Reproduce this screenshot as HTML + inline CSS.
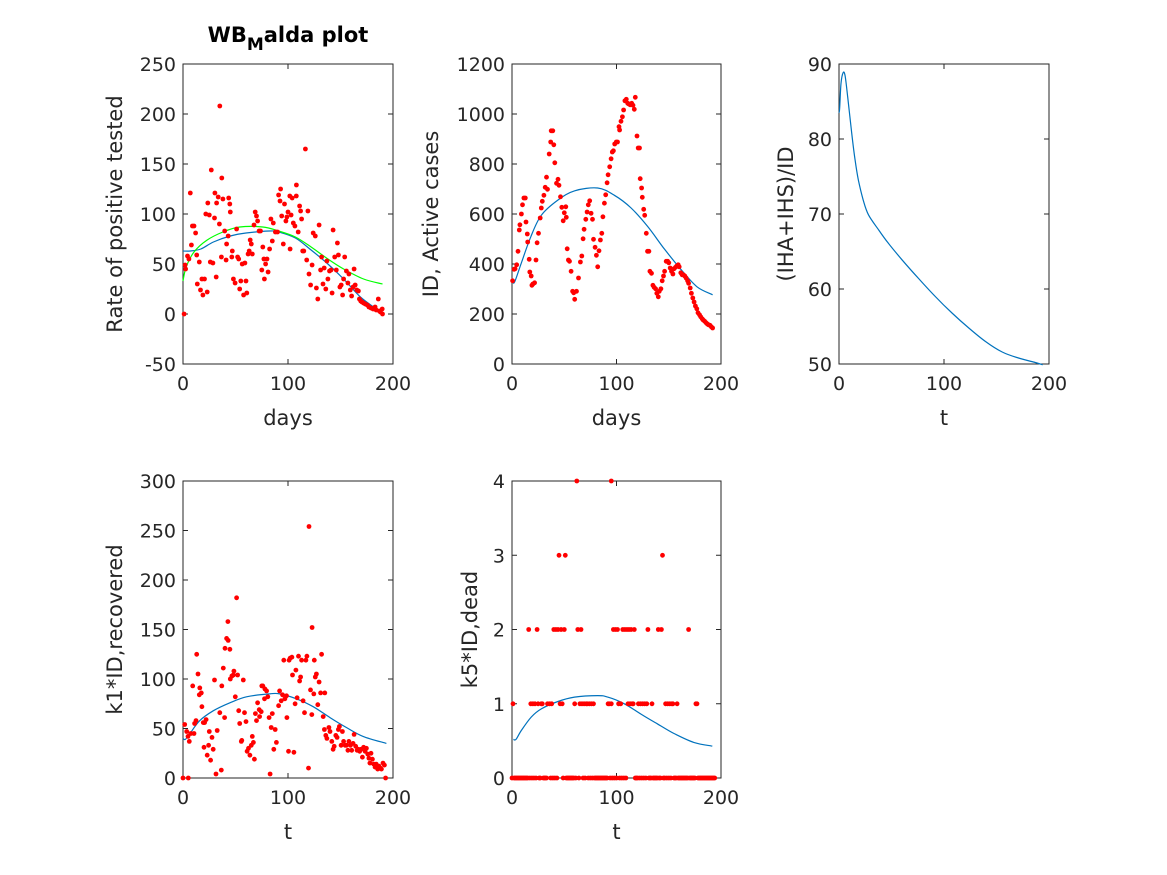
<!DOCTYPE html>
<html><head><meta charset="utf-8"><style>
body{margin:0;background:#fff;}
svg{display:block;font-family:"DejaVu Sans","Liberation Sans",sans-serif;}
</style></head><body>
<svg id="fig" width="1167" height="875" viewBox="0 0 1167 875" xmlns="http://www.w3.org/2000/svg">
<rect width="1167" height="875" fill="#fff"/>
<text x="288" y="42" text-anchor="middle" font-size="21" font-weight="bold" fill="#000">WB<tspan dy="8" font-size="17">M</tspan><tspan dy="-8">alda plot</tspan></text>
</svg>
<script>
// ---- Panel 1: rate of positive tested ----
const p1Days=[1,2,2.5,4.3,5.6,7,8,9,10.5,12,13,13.6,15.5,16.7,18,19,20.5,21.7,23,23.6,25,26,27,28.5,30,30.4,31.6,32,33.5,34.7,35,36.6,37,38,39.7,41,41.5,43,43.5,44.6,45,46.5,47,48,49.6,51,52,53,54,55,56.4,57.7,59,60,60.8,62,63,64,65,66,67.6,68.8,70,71,72.5,73.8,75,76,77,77.5,78.7,80,81,82.5,83.7,85,86,88,90,91,92.4,93,94,95.5,96.7,98,99,100,101.7,102,103,104,105,106.6,107.9,108,109.7,111,112,113,114,115,116.6,117.8,119,120,121.5,123,124,126,127,128.4,129.6,131,132,133.3,134.5,136,137,138,139.5,141,142,143,144.5,146,147,148,149.4,150.7,152,153,154,155.6,157,158,159.3,160.6,162,163,164,165.5,167,168,169.2,170.5,172,173.6,175.5,177,179,181,183,184,186,187,188,190,189.7];
const p1Vals=[0,49,45,58,55,121,69,88,88,81,59,30,52,24,35,19,35,100,22,111,99,52,144,51,96,121,37,111,117,90,208,57,136,115,83,54,70,78,116,110,102,57,63,35,31,85,57,55,25,33,50,19,51,33,21,60,63,74,70,60,89,102,98,93,83,83,44,67,55,35,50,55,42,65,95,73,91,82,82,119,113,125,98,70,110,93,97,102,118,65,99,116,91,88,118,129,82,108,103,95,63,63,165,54,103,40,29,49,81,78,26,15,89,44,57,30,46,25,53,35,43,44,21,84,57,44,71,59,27,29,19,35,57,43,31,40,24,18,27,45,29,24,23,15,13,12,11,10,9,7,6,5,7,4,15,3,2,0,5];
const p1FitDays=[0,7,17,29,45,60,82,91,107,122,138,153,169,184,190];
const p1FitVals=[63,63,65,72,78,81,83,82,76,64,50,35,17,5,-1];
const p1GreenDays=[0,3,10.5,23,38,54,76,91,107,122,138,153,172,190];
const p1GreenVals=[33,47,62,74,82,87,87,83,77,67,55,45,35,30];
const p1YTicks=[-50,0,50,100,150,200,250];
// ---- Panel 2: active cases ----
const p2Days=[0.6,2,3,4.5,5.7,7,7.6,9,10,11.4,12.7,13.4,14.6,15,16.5,17,18.4,19,20,21.6,23,24,25.4,27,28,29,30.5,31.8,33,34,35.6,37,37.5,39,40,41,42.6,44,45,46.4,47.7,49,50,51.5,52,52.8,54,55,56.6,58,59,60,61.7,63.6,65.5,66.8,68,69,70.6,71.9,73,74.4,75.7,77,78,79.5,80.8,82,83.3,84.6,85.9,87,88.4,89.7,91,92,93.5,94.8,96,97,98.3,99.8,101,102.4,103,104.3,105.6,106.8,108,109.4,110.7,111.9,113,114.5,115.8,117,118,119.6,120.8,122,122.7,124,124.7,126,127,128.5,129.7,131,132,133.5,134.8,136,137.4,138.6,140,141,142.5,143.7,145,146,147.6,149,150,151.4,152.6,154,155,156.5,157.7,159,160,161.5,162.8,164,165.4,166.6,168,169,170.5,171.7,173,174.3,175.5,176.8,178,179.4,180.6,182,183,184.4,185.7,187,188,189.5,190.7,192];
const p2Vals=[333,379,381,397,451,536,557,600,637,664,664,568,520,488,419,368,352,315,320,325,416,485,523,584,624,651,675,707,747,699,840,888,933,933,877,805,723,739,715,669,627,573,605,629,587,461,416,411,371,291,285,259,291,344,408,432,501,539,579,608,637,653,603,579,499,467,435,389,453,496,523,589,643,677,725,757,789,821,848,853,880,888,888,949,936,971,989,1016,1053,1059,1043,1040,1037,1043,1035,1019,1067,912,864,864,741,704,667,619,595,523,451,451,371,363,315,307,301,283,269,291,301,333,352,371,411,411,405,384,371,360,381,387,392,397,389,365,357,357,352,344,333,323,304,283,264,248,232,221,205,197,189,181,176,171,165,160,157,155,149,144];
const p2FitDays=[0.6,2.5,9,18,28,44,60,82,98,114,130,146,161.5,177,192];
const p2FitVals=[333,328,405,509,595,656,693,704,675,624,549,459,379,309,277];
const p2YTicks=[0,200,400,600,800,1000,1200];
// ---- Panel 3: (IHA+IHS)/ID ----
const p3Days=[0,0.6,1.9,3.8,5.7,8.3,12.1,15.3,18.5,23,28,37.6,47,60,75.8,91.7,107.6,123.6,139.5,155.4,171,187,194];
const p3Vals=[83.5,84.0,87.4,88.8,88.5,85.6,80.8,77.2,74.5,71.9,69.9,67.9,66.1,63.9,61.4,59.0,56.8,54.8,53.0,51.6,50.8,50.2,49.9];
const p3YTicks=[50,60,70,80,90];
// ---- Panel 4: recovered ----
const p4Days=[0,5,1.6,3.5,4.8,6,7.3,9.2,10.5,11,12.4,13,14.3,15.5,16,17.4,18,19.3,20.6,22,20,23,24.4,25,26.3,27.6,28.8,30,31.4,32.6,35,36.5,37,38.4,39.6,40,41.5,42.8,43,44.7,45,46.6,47.9,48.5,49.8,51,52,53,54,55.5,56,57.4,58.6,60,61,62.4,63.7,65,66,67,68,69,70,71,72.6,73,74.5,75,76,77.6,78,79.6,80.8,82,83,84,85,86.5,87.8,89,91,92,93.5,94.8,96,97,98.6,99,100.5,101,102,103.7,104.3,105.6,106.8,107.5,108.7,110,111,112,113,114.4,115.7,117,118,119.5,120,121.4,122.7,123,124.6,125,126,127,128.4,129.6,131,132,133.5,135,134.7,136,137,139,140,141.7,143,144,145.5,146.8,148,149,150.6,151.8,153,154.4,155.6,157,158,159.5,160.7,162,163,164.5,165.8,167,168.3,169.6,170.9,172,173.4,174.7,176,177,178,179,180.4,181.6,183,184,185.4,186.7,188,189,190.5,191.8,193];
const p4Vals=[0,0,54,47,42,37,45,93,45,55,58,125,105,84,91,86,72,56,56,59,31,23,33,47,18,41,29,99,4,48,66,8,93,111,61,131,141,158,139,130,100,103,104,108,82,182,104,68,55,37,38,99,66,57,27,30,23,33,42,36,19,65,58,76,69,62,67,93,93,80,90,88,82,61,4,51,65,29,49,36,73,88,78,84,119,80,83,61,27,119,121,122,104,26,75,109,81,123,98,102,119,78,66,119,123,10,254,89,64,152,85,119,102,105,74,97,86,125,62,86,49,43,40,51,47,37,29,32,43,41,49,52,33,47,37,33,33,28,37,33,28,35,44,32,28,29,27,29,21,31,27,30,24,20,15,25,19,14,11,14,9,12,10,9,15,13,0];
const p4FitDays=[0,2.2,6.7,16,29,44.7,60.5,82.7,92,108,124,140,155.6,171.5,193.7];
const p4FitVals=[40,39,45,58,68,76,82,85,85,80,72,61,51,42,35];
const p4YTicks=[0,50,100,150,200,250,300];
// ---- Panel 5: dead ----
const p5Days=[62,95,45,51,144,16,24,40,42,44,47,50,63,66,97,99,101,106,108,110,112,114,117,130,140,143,169,1,18,20,22,25,28,29,34,36,38,46,48,60,65,67,69,71,72,74,76,78,92,93,95,102,104,111,113,115,116,121,123,125,127,129,134,147,149,151,153,154,158,176,177];
const p5Vals=[4,4,3,3,3,2,2,2,2,2,2,2,2,2,2,2,2,2,2,2,2,2,2,2,2,2,2,1,1,1,1,1,1,1,1,1,1,1,1,1,1,1,1,1,1,1,1,1,1,1,1,1,1,1,1,1,1,1,1,1,1,1,1,1,1,1,1,1,1,1,1];
const p5ZeroDays=[0,2,3,4,5,6,7,8,9,10,11,12,13,14,15,17,19,21,23,26,27,30,31,32,33,37,39,41,43,49,52,53,54,55,56,57,58,59,61,64,68,70,73,75,77,79,80,81,82,83,84,85,86,87,88,89,90,91,94,96,98,100,103,105,107,109,118,119,120,122,124,126,128,131,132,133,135,136,137,138,139,141,142,145,146,148,150,152,155,156,157,159,160,161,162,163,164,165,166,167,168,170,171,172,173,174,175,178,179,180,181,182,183,184,185,186,187,188,189,190,191,192,193,194];
const p5FitDays=[1.3,3.8,8.9,18.4,28,43.9,59.8,82,91.6,107.5,123.4,139,155,174,191.7];
const p5FitVals=[0.52,0.52,0.64,0.82,0.93,1.03,1.09,1.11,1.09,1.0,0.86,0.73,0.6,0.48,0.43];
const p5YTicks=[0,1,2,3,4];
const xTicks=[0,100,200];

const NS='http://www.w3.org/2000/svg';
const svg=document.getElementById('fig');
function mk(tag,attrs,parent){const e=document.createElementNS(NS,tag);for(const k in attrs)e.setAttribute(k,attrs[k]);(parent||svg).appendChild(e);return e;}

function panel(id,box,ymin,ymax,yTicks,ylab,xlab,ylabX){
  const g=mk('g',{});
  
  
  const sx=v=>box.x0+(v-0)/(200-0)*(box.x1-box.x0);
  const sy=v=>box.y1-(v-ymin)/(ymax-ymin)*(box.y1-box.y0);
  mk('rect',{x:box.x0,y:box.y0,width:box.x1-box.x0,height:box.y1-box.y0,fill:'#fff',stroke:'#262626','stroke-width':1},g);
  yTicks.forEach(t=>{
    const y=sy(t);
    mk('line',{x1:box.x0,x2:box.x0+5,y1:y,y2:y,stroke:'#262626'},g);
    mk('line',{x1:box.x1,x2:box.x1-5,y1:y,y2:y,stroke:'#262626'},g);
    const tx=mk('text',{x:box.x0-7,y:y+7,'text-anchor':'end','font-size':19,fill:'#262626'},g);
    
    
    tx.textContent=t;
  });
  xTicks.forEach(t=>{
    const x=sx(t);
    mk('line',{x1:x,x2:x,y1:box.y1,y2:box.y1-5,stroke:'#262626'},g);
    mk('line',{x1:x,x2:x,y1:box.y0,y2:box.y0+5,stroke:'#262626'},g);
    const tx=mk('text',{x:x,y:box.y1+26,'text-anchor':'middle','font-size':19,fill:'#262626'},g);
    
    
    tx.textContent=t;
  });
  const yl=mk('text',{x:0,y:0,'text-anchor':'middle','font-size':21,fill:'#262626',transform:`translate(${ylabX},${(box.y0+box.y1)/2}) rotate(-90)`},g);
  
  
  yl.textContent=ylab;
  const xl=mk('text',{x:(box.x0+box.x1)/2,y:box.y1+61,'text-anchor':'middle','font-size':21,fill:'#262626'},g);
  
  
  xl.textContent=xlab;
  return {g,sx,sy};
}
function line(P,xs,ys,color,name){
  const pts=xs.map((x,i)=>[P.sx(x),P.sy(ys[i])]);
  let d='M'+pts[0][0].toFixed(1)+' '+pts[0][1].toFixed(1);
  for(let i=0;i<pts.length-1;i++){
    const p0=pts[Math.max(0,i-1)],p1=pts[i],p2=pts[i+1],p3=pts[Math.min(pts.length-1,i+2)];
    const c1=[p1[0]+(p2[0]-p0[0])/6,p1[1]+(p2[1]-p0[1])/6];
    const c2=[p2[0]-(p3[0]-p1[0])/6,p2[1]-(p3[1]-p1[1])/6];
    d+=' C'+c1[0].toFixed(1)+' '+c1[1].toFixed(1)+' '+c2[0].toFixed(1)+' '+c2[1].toFixed(1)+' '+p2[0].toFixed(1)+' '+p2[1].toFixed(1);
  }
  const p=mk('path',{d:d,fill:'none',stroke:color,'stroke-width':1.2},P.g);
  
  
}
function dots(P,xs,ys,name){
  xs.forEach((x,i)=>{
    const c=mk('circle',{cx:P.sx(x).toFixed(1),cy:P.sy(ys[i]).toFixed(1),r:2.4,fill:'#ff0000'},P.g);
    
    
  });
}
const blue='#0072bd';
const P1=panel('positive-rate',{x0:183,x1:393,y0:64,y1:364},-50,250,p1YTicks,'Rate of positive tested','days',122);
line(P1,p1FitDays,p1FitVals,blue,'fit-line');
line(P1,p1GreenDays,p1GreenVals,'#00ff00','green-fit-line');
dots(P1,p1Days,p1Vals,'positive-point');
const P2=panel('active-cases',{x0:512,x1:721,y0:64,y1:364},0,1200,p2YTicks,'ID, Active cases','days',438);
line(P2,p2FitDays,p2FitVals,blue,'fit-line');
dots(P2,p2Days,p2Vals,'active-point');
const P3=panel('iha-ihs-ratio',{x0:839,x1:1049,y0:64,y1:364},50,90,p3YTicks,'(IHA+IHS)/ID','t',793);
line(P3,p3Days,p3Vals,blue,'ratio-line');
const P4=panel('recovered',{x0:183,x1:393,y0:481,y1:778},0,300,p4YTicks,'k1*ID,recovered','t',122);
line(P4,p4FitDays,p4FitVals,blue,'fit-line');
dots(P4,p4Days,p4Vals,'recovered-point');
const P5=panel('dead',{x0:512,x1:721,y0:481,y1:778},0,4,p5YTicks,'k5*ID,dead','t',477);
line(P5,p5FitDays,p5FitVals,blue,'fit-line');
dots(P5,p5Days,p5Vals,'dead-point');
dots(P5,p5ZeroDays,p5ZeroDays.map(()=>0),'dead-zero-point');
</script>
</body></html>
